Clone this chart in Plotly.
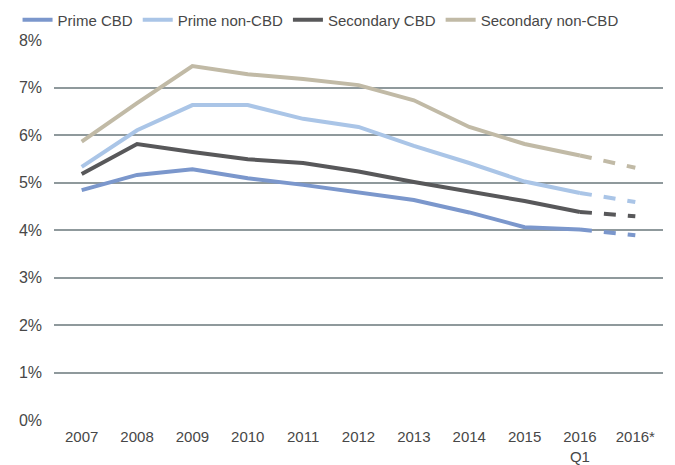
import plotly.graph_objects as go

categories = ["2007", "2008", "2009", "2010", "2011", "2012", "2013", "2014", "2015", "2016<br>Q1", "2016*"]
prime_cbd = [4.84, 5.16, 5.28, 5.09, 4.95, 4.79, 4.63, 4.37, 4.06, 4.01, 3.89]
prime_non_cbd = [5.33, 6.10, 6.63, 6.63, 6.34, 6.17, 5.77, 5.41, 5.02, 4.78, 4.59]
secondary_cbd = [5.18, 5.81, 5.64, 5.49, 5.41, 5.23, 5.01, 4.81, 4.61, 4.38, 4.29]
secondary_non_cbd = [5.86, 6.67, 7.45, 7.28, 7.18, 7.05, 6.73, 6.17, 5.81, 5.57, 5.31]
y_ticks = [0, 1, 2, 3, 4, 5, 6, 7, 8]

series = [
    ("Prime CBD", prime_cbd, "#7b97cc"),
    ("Prime non-CBD", prime_non_cbd, "#aac5e7"),
    ("Secondary CBD", secondary_cbd, "#58585a"),
    ("Secondary non-CBD", secondary_non_cbd, "#c1baa6"),
]

x_idx = list(range(len(categories)))
fig = go.Figure()
for name, vals, color in series:
    fig.add_trace(go.Scatter(x=x_idx[:-1], y=vals[:-1], mode="lines", name=name,
                             line=dict(color=color, width=4)))
for name, vals, color in series:
    fig.add_trace(go.Scatter(x=x_idx[-2:], y=vals[-2:], mode="lines", showlegend=False,
                             line=dict(color=color, width=4, dash="dash")))

fig.update_layout(
    width=675, height=465,
    margin=dict(l=54, r=12, t=40, b=45, autoexpand=False),
    paper_bgcolor="white", plot_bgcolor="white",
    font=dict(family="Liberation Sans, Arial, sans-serif", size=16, color="#474747"),
    legend=dict(orientation="h", x=0.026, xanchor="left", y=1.0526, yanchor="middle",
                xref="container", yref="paper", bgcolor="rgba(0,0,0,0)",
                font=dict(size=15), itemwidth=30, tracegroupgap=0),
    showlegend=True,
)
fig.update_xaxes(range=[-0.5, 10.5], tickmode="array", tickvals=x_idx, ticktext=categories,
                 showgrid=False, zeroline=False, showline=False, ticks="", automargin=False,
                 ticklabelstandoff=6, tickfont=dict(size=15))
fig.update_yaxes(range=[0, 8], tickmode="array", tickvals=y_ticks,
                 ticktext=[f"{v}%" for v in y_ticks], showgrid=True, gridcolor="#8f999c",
                 gridwidth=1.5, zeroline=False, showline=False, ticks="", automargin=False,
                 ticklabelstandoff=11, tickfont=dict(size=16))

fig.write_html("out.html")
